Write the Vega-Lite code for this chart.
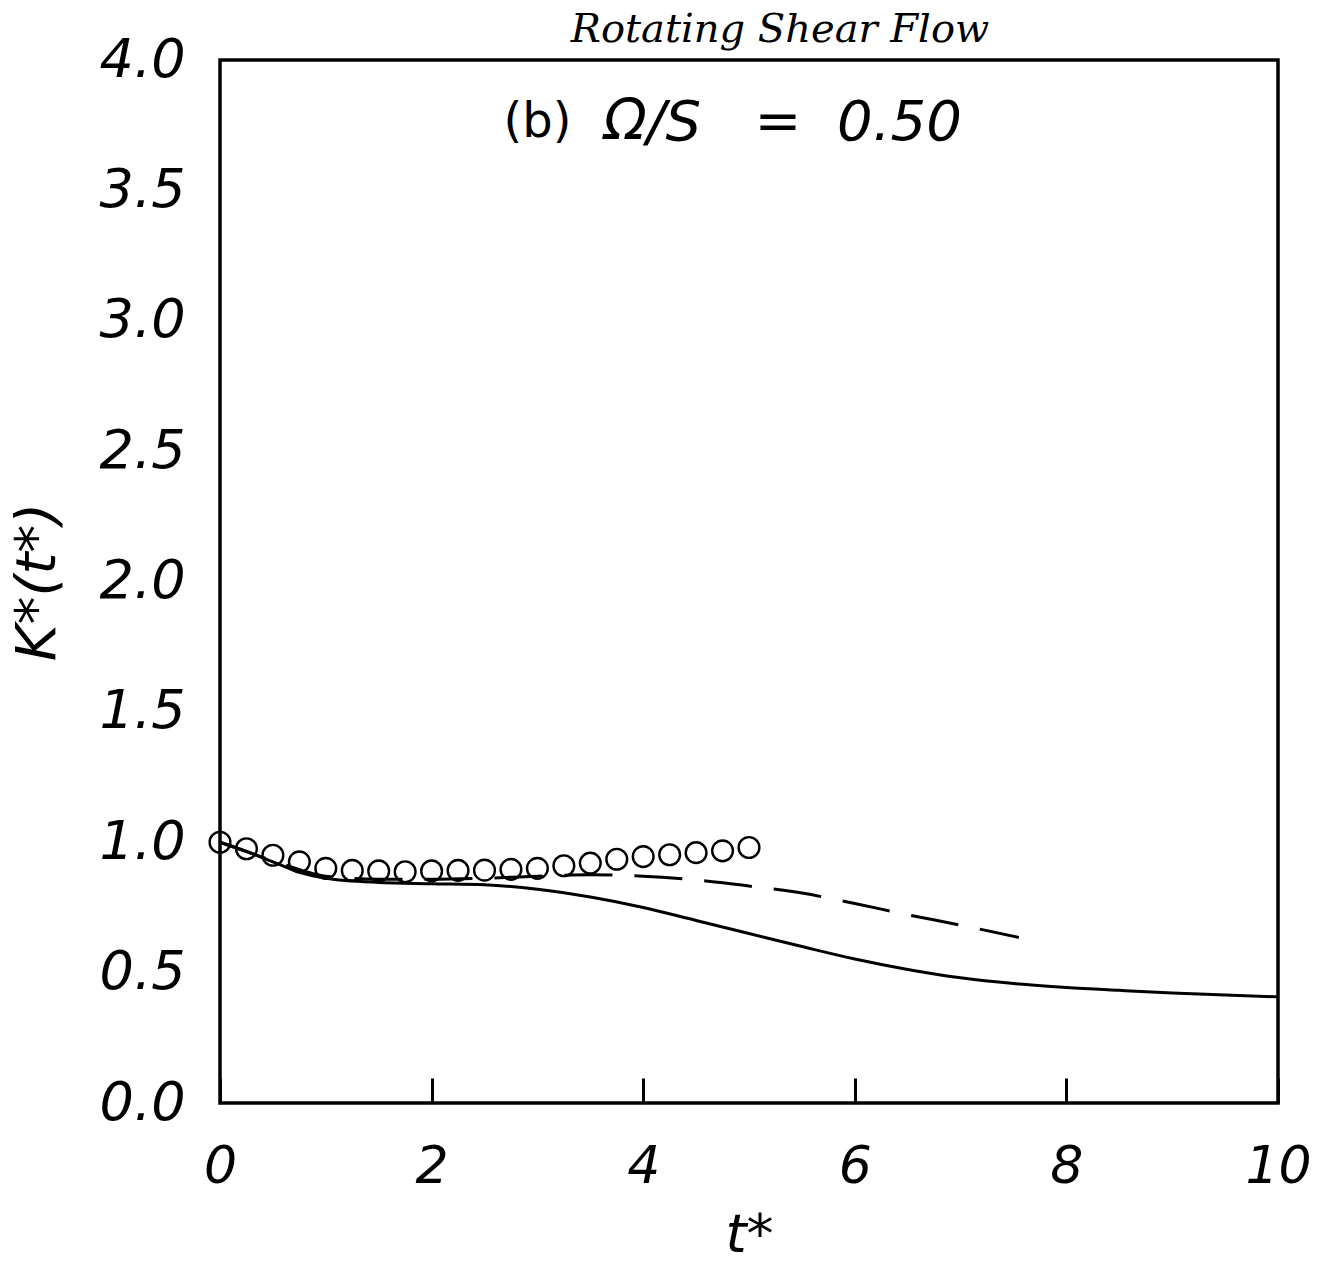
{
  "$schema": "https://vega.github.io/schema/vega-lite/v6.json",
  "width": 1058,
  "height": 1043,
  "autosize": {"type": "none"},
  "padding": {"left": 220, "top": 60, "right": 42, "bottom": 160},
  "background": "white",
  "config": {
    "view": {"stroke": "black", "strokeWidth": 3.5},
    "axis": {"grid": false, "domain": false}
  },
  "title": {
    "text": "Rotating Shear Flow",
    "font": "DejaVu Serif",
    "fontStyle": "italic",
    "fontWeight": "normal",
    "fontSize": 40,
    "color": "black",
    "dx": 31,
    "offset": -17
  },
  "datasets": {
    "curves": [
      {"series": "solid", "t": 0, "k": 1.0},
      {"series": "solid", "t": 0.25, "k": 0.965},
      {"series": "solid", "t": 0.5, "k": 0.925},
      {"series": "solid", "t": 0.75, "k": 0.885},
      {"series": "solid", "t": 1.0, "k": 0.862},
      {"series": "solid", "t": 1.5, "k": 0.846},
      {"series": "solid", "t": 2.0, "k": 0.841},
      {"series": "solid", "t": 2.5, "k": 0.837},
      {"series": "solid", "t": 3.0, "k": 0.82},
      {"series": "solid", "t": 3.5, "k": 0.79},
      {"series": "solid", "t": 4.0, "k": 0.75},
      {"series": "solid", "t": 4.5, "k": 0.70},
      {"series": "solid", "t": 5.0, "k": 0.65},
      {"series": "solid", "t": 5.5, "k": 0.60},
      {"series": "solid", "t": 6.0, "k": 0.552},
      {"series": "solid", "t": 6.5, "k": 0.512},
      {"series": "solid", "t": 7.0, "k": 0.48},
      {"series": "solid", "t": 7.5, "k": 0.458},
      {"series": "solid", "t": 8.0, "k": 0.443},
      {"series": "solid", "t": 8.5, "k": 0.432},
      {"series": "solid", "t": 9.0, "k": 0.422},
      {"series": "solid", "t": 9.5, "k": 0.414},
      {"series": "solid", "t": 10.0, "k": 0.407},
      {"series": "dashed", "t": 0, "k": 1.0},
      {"series": "dashed", "t": 0.5, "k": 0.93},
      {"series": "dashed", "t": 1.0, "k": 0.87},
      {"series": "dashed", "t": 1.5, "k": 0.858},
      {"series": "dashed", "t": 2.0, "k": 0.858},
      {"series": "dashed", "t": 2.5, "k": 0.862},
      {"series": "dashed", "t": 3.0, "k": 0.87},
      {"series": "dashed", "t": 3.5, "k": 0.875},
      {"series": "dashed", "t": 4.0, "k": 0.87},
      {"series": "dashed", "t": 4.5, "k": 0.855},
      {"series": "dashed", "t": 5.0, "k": 0.832},
      {"series": "dashed", "t": 5.5, "k": 0.805},
      {"series": "dashed", "t": 6.0, "k": 0.765},
      {"series": "dashed", "t": 6.5, "k": 0.722},
      {"series": "dashed", "t": 7.0, "k": 0.682},
      {"series": "dashed", "t": 7.55, "k": 0.635}
    ],
    "circles": [
      {"t": 0.0, "k": 1.0},
      {"t": 0.25, "k": 0.975},
      {"t": 0.5, "k": 0.95},
      {"t": 0.75, "k": 0.925},
      {"t": 1.0, "k": 0.90},
      {"t": 1.25, "k": 0.892},
      {"t": 1.5, "k": 0.89},
      {"t": 1.75, "k": 0.887},
      {"t": 2.0, "k": 0.89},
      {"t": 2.25, "k": 0.892},
      {"t": 2.5, "k": 0.893},
      {"t": 2.75, "k": 0.896},
      {"t": 3.0, "k": 0.90},
      {"t": 3.25, "k": 0.91},
      {"t": 3.5, "k": 0.92},
      {"t": 3.75, "k": 0.935},
      {"t": 4.0, "k": 0.945},
      {"t": 4.25, "k": 0.952},
      {"t": 4.5, "k": 0.96},
      {"t": 4.75, "k": 0.967},
      {"t": 5.0, "k": 0.98}
    ],
    "labelB": [
      {"t": 3.0, "k": 3.76, "label": "(b)"}
    ],
    "labelOmega": [
      {"t": 5.32, "k": 3.76, "label": "Ω/S\u00a0\u00a0\u00a0=\u00a0\u00a00.50"}
    ]
  },
  "encoding": {
    "x": {
      "field": "t",
      "type": "quantitative",
      "scale": {"domain": [0, 10], "nice": false},
      "axis": {
        "values": [0, 2, 4, 6, 8, 10],
        "format": "d",
        "title": "t*",
        "titleFont": "DejaVu Sans",
        "titleFontStyle": "italic",
        "titleFontWeight": "normal",
        "titleFontSize": 54,
        "titleColor": "black",
        "titlePadding": 16,
        "labelFont": "DejaVu Sans",
        "labelFontStyle": "italic",
        "labelFontSize": 52,
        "labelColor": "black",
        "labelPadding": 63,
        "ticks": true,
        "tickSize": -25,
        "tickWidth": 3,
        "tickColor": "black",
        "labelFlush": false
      }
    },
    "y": {
      "field": "k",
      "type": "quantitative",
      "scale": {"domain": [0, 4], "nice": false},
      "axis": {
        "values": [0, 0.5, 1, 1.5, 2, 2.5, 3, 3.5, 4],
        "format": ".1f",
        "title": "K*(t*)",
        "titleFont": "DejaVu Sans",
        "titleFontStyle": "italic",
        "titleFontWeight": "normal",
        "titleFontSize": 56,
        "titleColor": "black",
        "titlePadding": 33,
        "labelFont": "DejaVu Sans",
        "labelFontStyle": "italic",
        "labelFontSize": 54,
        "labelColor": "black",
        "labelPadding": 35,
        "ticks": false,
        "labelFlush": false
      }
    }
  },
  "layer": [
    {
      "data": {"name": "curves"},
      "transform": [{"filter": "datum.series === 'solid'"}],
      "mark": {"type": "line", "color": "black", "strokeWidth": 3, "interpolate": "monotone"}
    },
    {
      "data": {"name": "curves"},
      "transform": [{"filter": "datum.series === 'dashed'"}],
      "mark": {"type": "line", "color": "black", "strokeWidth": 3, "strokeDash": [48, 22], "interpolate": "monotone"}
    },
    {
      "data": {"name": "circles"},
      "mark": {"type": "point", "shape": "circle", "filled": false, "color": "black", "strokeWidth": 2.4, "size": 430, "opacity": 1}
    },
    {
      "data": {"name": "labelB"},
      "mark": {"type": "text", "font": "DejaVu Sans", "fontSize": 48, "color": "black", "align": "center", "baseline": "middle"},
      "encoding": {"text": {"field": "label"}}
    },
    {
      "data": {"name": "labelOmega"},
      "mark": {"type": "text", "font": "DejaVu Sans", "fontStyle": "italic", "fontSize": 56, "color": "black", "align": "center", "baseline": "middle"},
      "encoding": {"text": {"field": "label"}}
    }
  ]
}
